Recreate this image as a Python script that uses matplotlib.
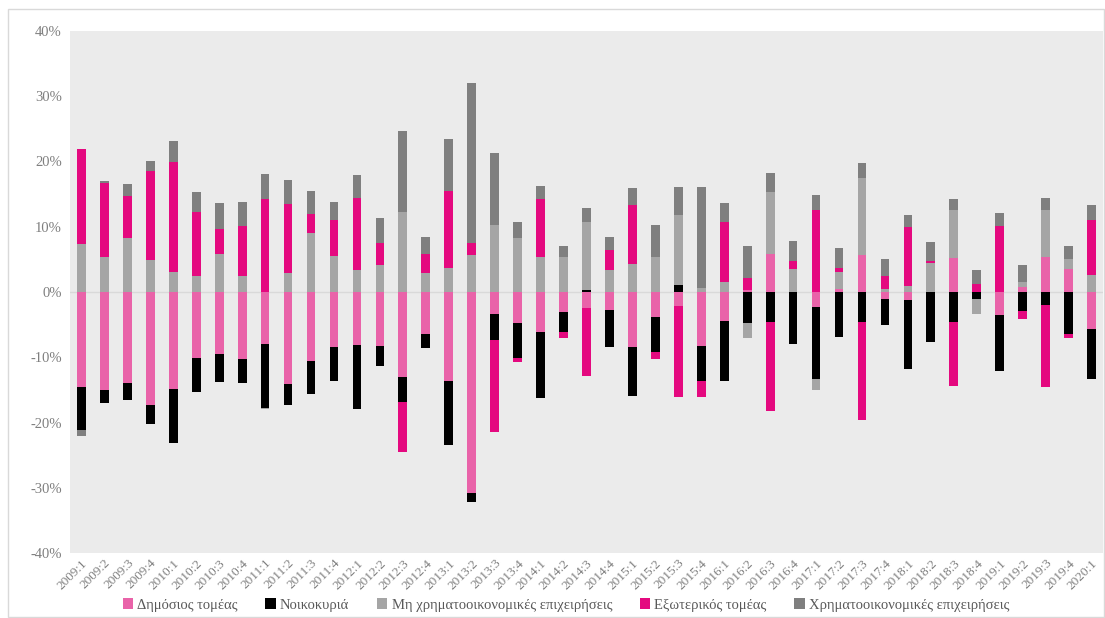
import numpy as np
import matplotlib
matplotlib.use("Agg")
import matplotlib.pyplot as plt
from matplotlib.patches import Rectangle

quarters = ["2009:1","2009:2","2009:3","2009:4","2010:1","2010:2","2010:3","2010:4",
            "2011:1","2011:2","2011:3","2011:4","2012:1","2012:2","2012:3","2012:4",
            "2013:1","2013:2","2013:3","2013:4","2014:1","2014:2","2014:3","2014:4",
            "2015:1","2015:2","2015:3","2015:4","2016:1","2016:2","2016:3","2016:4",
            "2017:1","2017:2","2017:3","2017:4","2018:1","2018:2","2018:3","2018:4",
            "2019:1","2019:2","2019:3","2019:4","2020:1"]

public = [-14.6,-15.0,-13.9,-17.3,-14.8,-10.1,-9.5,-10.2,
          -7.9,-14.1,-10.6,-8.5,-8.1,-8.2,-13.1,-6.4,
          -13.6,-30.8,-3.3,-4.8,-6.2,-3.0,-2.5,-2.7,
          -8.5,-3.9,-2.1,-8.3,-4.5,0.3,5.9,0.0,
          -2.3,0.5,5.6,-1.0,-1.3,0.0,5.2,0.0,
          -3.6,0.7,5.3,3.5,-5.7]
households = [-6.6,-2.0,-2.6,-2.9,-8.3,-5.3,-4.3,-3.7,
              -9.9,-3.2,-5.0,-5.2,-9.8,-3.1,-3.8,-2.2,
              -9.8,-1.4,-4.1,-5.3,-10.1,-3.2,0.3,-5.7,
              -7.4,-5.3,1.0,-5.4,-9.2,-4.7,-4.6,-7.9,
              -11.0,-6.9,-4.6,-4.1,-10.5,-7.7,-4.6,-1.0,
              -8.5,-2.9,-2.0,-6.5,-7.7]
nonfin = [7.4,5.4,8.2,4.9,3.0,2.5,5.9,2.5,
          -0.2,2.9,9.0,5.5,3.3,4.2,12.2,2.9,
          3.7,5.6,10.3,8.2,5.4,5.4,10.4,3.4,
          4.3,5.4,10.8,0.6,1.5,-2.3,9.4,3.5,
          -1.7,2.6,11.8,0.5,0.9,4.4,7.4,-2.4,
          0.0,0.8,7.3,1.5,2.6]
external = [14.5,11.3,6.5,13.7,17.0,9.7,3.8,7.6,
            14.3,10.6,2.9,5.5,11.1,3.3,-7.6,3.0,
            11.8,1.9,-14.0,-0.7,8.8,-0.9,-10.3,3.1,
            9.1,-1.1,-14.0,-2.4,9.3,1.9,-13.7,1.3,
            12.5,0.6,-15.0,1.9,9.0,0.4,-9.8,1.2,
            10.1,-1.3,-12.5,-0.5,8.4]
financial = [-0.8,0.3,1.9,1.5,3.1,3.2,4.0,3.7,
             3.8,3.7,3.6,2.8,3.5,3.8,12.5,2.6,
             7.9,24.6,11.0,2.5,2.0,1.7,2.1,1.9,
             2.5,4.9,4.3,15.5,2.8,4.8,3.0,3.0,
             2.4,3.1,2.3,2.6,1.9,2.9,1.7,2.2,
             2.0,2.6,1.8,2.0,2.4]

series_names = ["Δημόσιος τομέας", "Νοικοκυριά", "Μη χρηματοοικονομικές επιχειρήσεις",
                "Εξωτερικός τομέας", "Χρηματοοικονομικές επιχειρήσεις"]
series_values = [public, households, nonfin, external, financial]
colors = ["#E963A9", "#000000", "#A5A5A5", "#E4097F", "#7F7F7F"]

plt.rcParams['font.family'] = ['Liberation Serif', 'DejaVu Serif']

fig = plt.figure(figsize=(11.05, 6.18), dpi=100)
W, H = 1105, 618
ax = fig.add_axes([70/W, 1-553/H, (1103-70)/W, (553-31)/H])
ax.set_facecolor("#EBEBEB")

x = np.arange(len(quarters))
pos_bottom = np.zeros(len(quarters))
neg_bottom = np.zeros(len(quarters))
handles = []
for name, vals, col in zip(series_names, series_values, colors):
    v = np.array(vals, dtype=float)
    pos = np.where(v > 0, v, 0)
    neg = np.where(v < 0, v, 0)
    h = ax.bar(x, pos, 0.38, bottom=pos_bottom, color=col, label=name, linewidth=0)
    ax.bar(x, neg, 0.38, bottom=neg_bottom, color=col, linewidth=0)
    pos_bottom += pos
    neg_bottom += neg
    handles.append(h)

ax.axhline(0, color="#D9D9D9", linewidth=1.0, zorder=0.5)
ax.set_xlim(-0.5, len(quarters) - 0.5)
ax.set_ylim(-40, 40)
ax.set_yticks(np.arange(-40, 41, 10))
ax.set_yticklabels([f"{t}%" for t in range(-40, 41, 10)], fontsize=10.5, color="#7F7F7F")
ax.set_xticks(x)
ax.set_xticklabels(quarters, rotation=45, ha="right", rotation_mode="anchor",
                   fontsize=9.5, color="#7F7F7F")
ax.tick_params(axis="both", length=0, pad=6)
ax.tick_params(axis="x", pad=3)
for s in ax.spines.values():
    s.set_visible(False)

leg = fig.legend(handles=handles, labels=series_names, loc="center",
                 bbox_to_anchor=(566/W, 1-605/H), ncol=5, frameon=False,
                 fontsize=10.5, handlelength=0.7, handleheight=0.7, handletextpad=0.3,
                 columnspacing=1.9, labelcolor="#595959")

fig.patches.append(Rectangle((8/W, 1/H), (1104-8)/W, (617-9)/H, transform=fig.transFigure,
                             fill=False, edgecolor="#D9D9D9", linewidth=1.0))

fig.savefig("out.png", dpi=100, facecolor="white")
